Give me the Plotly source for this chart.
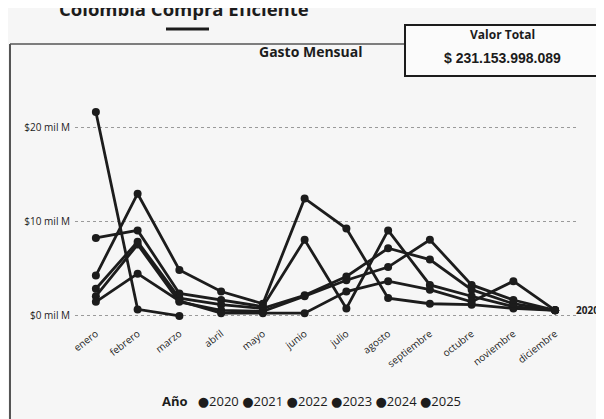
"""Gasto mensual por año — Colombia Compra Eficiente (versión en grises, como la foto)."""

import plotly.graph_objects as go

MESES = ["enero", "febrero", "marzo", "abril", "mayo", "junio", "julio",
         "agosto", "septiembre", "octubre", "noviembre", "diciembre"]

# miles de millones de pesos
G_2020 = [4.3, 13.0, 4.9, 2.6, 1.3, 12.5, 9.3, 1.9, 1.3, 1.2, 0.8, 0.6]
G_2021 = [8.3, 9.1, 2.4, 1.7, 1.0, 8.1, 0.8, 9.1, 3.3, 2.1, 1.0, 0.6]
G_2022 = [2.9, 7.9, 1.9, 1.2, 0.8, 2.2, 4.2, 7.2, 6.0, 2.8, 1.3, 0.6]
G_2023 = [2.1, 7.6, 1.5, 0.6, 0.5, 2.1, 3.8, 5.2, 8.1, 3.3, 1.7, 0.6]
G_2024 = [1.5, 4.5, 1.6, 0.3, 0.3, 0.3, 2.6, 3.7, 2.8, 1.5, 3.7, 0.6]
G_2025 = [21.7, 0.7, 0.0]

ANIOS = ["2020", "2021", "2022", "2023", "2024", "2025"]
SERIES = [G_2020, G_2021, G_2022, G_2023, G_2024, G_2025]

Y_TICKS = [0, 10, 20]
Y_LABELS = ["$0 mil M", "$10 mil M", "$20 mil M"]

VALOR_TOTAL = "$ 231.153.998.089"

C_INK = "#1c1c1c"
C_BG = "#f6f6f6"
C_GRID = "#9a9a9a"
FONT = "Open Sans, Noto Sans, sans-serif"

# the page body keeps its default 8px margin, so the figure is 8px smaller
OFF = 8
W, H = 604 - OFF, 419 - OFF
L, R, T, B = 75 - OFF, 28, 95 - OFF, 94


def px(x):
    """page pixel x -> paper x"""
    return (x - OFF - L) / (W - L - R)


def py(y):
    """page pixel y -> paper y"""
    return (H - B - (y - OFF)) / (H - T - B)


def text(x, y, s, size, family=FONT):
    fig.add_annotation(x=px(x), y=py(y), xref="paper", yref="paper", showarrow=False,
                       xanchor="center", yanchor="middle", text=s,
                       font={"size": size, "color": C_INK, "family": family})


fig = go.Figure()
for anio, vals in zip(ANIOS, SERIES):
    fig.add_trace(go.Scatter(
        x=MESES[:len(vals)], y=vals, mode="lines+markers", name=anio,
        line={"color": C_INK, "width": 2.8},
        marker={"size": 8, "color": C_INK},
        showlegend=False,
    ))

fig.add_annotation(x=MESES[-1], y=G_2020[-1], text="<b>2020</b>", showarrow=False,
                   xanchor="left", xshift=19, font={"size": 10, "color": C_INK})

# marco y encabezados
fig.add_shape(type="line", xref="paper", yref="paper", x0=px(10), x1=px(10), y0=py(44), y1=py(425),
              line={"color": "#555", "width": 2})
fig.add_shape(type="line", xref="paper", yref="paper", x0=px(10), x1=px(405), y0=py(44), y1=py(44),
              line={"color": "#555", "width": 1.5})
fig.add_shape(type="line", xref="paper", yref="paper", x0=px(599), x1=px(610), y0=py(38), y1=py(38),
              line={"color": "#555", "width": 1.5})
fig.add_shape(type="rect", xref="paper", yref="paper", x0=px(405), x1=px(599), y0=py(76), y1=py(25),
              line={"color": C_INK, "width": 2}, fillcolor="#fbfbfb")
fig.add_shape(type="line", xref="paper", yref="paper", x0=px(166), x1=px(209), y0=py(29), y1=py(29),
              line={"color": C_INK, "width": 3})

text(184, 9, "<b>Colombia Compra Eficiente</b>", 18.5)
text(311, 52, "<b>Gasto Mensual</b>", 14)
text(502, 35, "<b>Valor Total</b>", 12)
text(502, 58, f"<b>{VALOR_TOTAL}</b>", 14, "Liberation Sans, Arial, sans-serif")

# leyenda estilo Power BI: solo puntos
dot = "<span style='font-family:DejaVu Sans;font-size:13px'>●</span>"
leyenda = "<b>Año</b>&nbsp;&nbsp;&nbsp;" + "&nbsp;".join(f"{dot}{a}" for a in ANIOS)
text(311, 401, leyenda, 13)

fig.update_xaxes(
    range=[-0.5, 11.5], tickangle=-38, showgrid=False, zeroline=False,
    showline=False, tickfont={"size": 10, "color": C_INK}, ticks="", automargin=False,
)
fig.update_yaxes(
    range=[-0.96, 23.5], tickvals=Y_TICKS, ticktext=Y_LABELS,
    showgrid=True, gridcolor=C_GRID, griddash="dot", gridwidth=1,
    zeroline=False, showline=False, tickfont={"size": 10, "color": C_INK},
    ticklabelstandoff=4, automargin=False,
)
fig.update_layout(
    width=W, height=H,
    margin=dict(l=L, r=R, t=T, b=B, autoexpand=False),
    paper_bgcolor=C_BG, plot_bgcolor=C_BG,
    font={"family": FONT, "color": C_INK, "size": 11},
    showlegend=False,
)

fig.write_html("out.html")
